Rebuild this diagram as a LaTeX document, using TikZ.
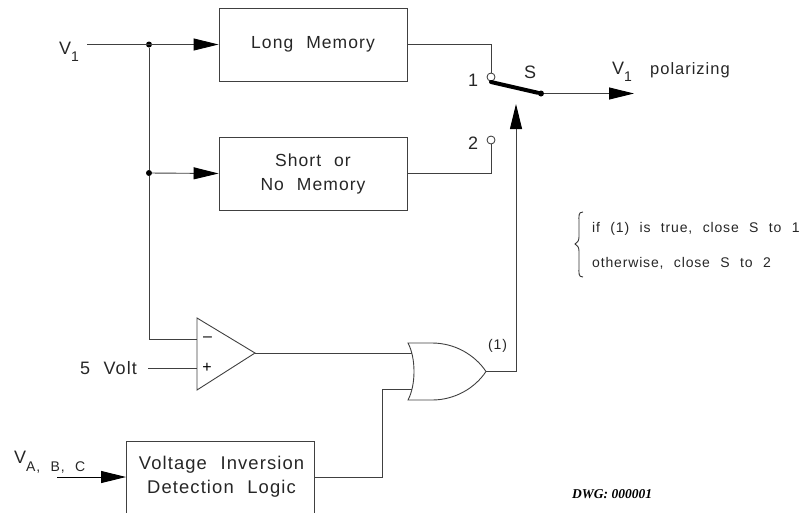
\documentclass[tikz,border=0pt]{standalone}
\usepackage{fontspec}
\setmainfont[LetterSpace=6,WordSpace=2.2]{Liberation Sans}
\newfontfamily\dwgfont{Liberation Serif}
\usetikzlibrary{arrows.meta,calc}
\tikzset{
  wire/.style={line width=0.9pt,draw=black!75},
  arr/.style={wire,-{Triangle[length=25pt,width=12pt,black]}},
  blockbox/.style={draw=black!75,line width=0.9pt,minimum width=188pt,align=center,text=black!85,font=\fontsize{17.5}{24}\selectfont,inner sep=0pt},
  lab/.style={inner sep=0pt,text=black!85,font=\fontsize{18}{20}\selectfont,anchor=base west},
  note/.style={inner sep=0pt,text=black!85,font=\fontsize{14}{16}\selectfont,anchor=base west},
  term/.style={circle,draw=black!80,line width=0.8pt,minimum size=8pt,inner sep=0pt,fill=white},
  junct/.style={circle,fill=black,minimum size=6pt,inner sep=0pt},
}
\begin{document}
\begin{tikzpicture}[x=1pt,y=-1pt]
\useasboundingbox (0,0) rectangle (808,512);
% blocks
\node[blockbox,minimum height=73pt] (long) at (313,44.5) {Long Memory};
\node[blockbox,minimum height=73pt] (short) at (313,173.5) {Short or\\No Memory};
\node[blockbox,minimum height=82pt] (vinv) at (220.5,482) {};
\node[inner sep=0pt,align=center,text=black!85,font=\fontsize{18.4}{24}\selectfont] (vinvt) at (221.5,476.5) {Voltage Inversion\\Detection Logic};
% named points
\node[term] (t1) at (491,77) {};
\node[term] (t2) at (491,140) {};
\coordinate (swa) at (491,82);
\node[junct] (swb) at (541,93.5) {};
\coordinate (outtip) at (634,93.5);
\coordinate (v1) at (87,44.5);
\node[junct] (j1) at (149,44.5) {};
\node[junct] (j2) at (149,173) {};
% comparator
\draw[wire,line join=miter] (197,318) -- (255,353) -- (197,390) -- cycle;
\coordinate (cmpo) at (255,353);
\coordinate (cmpm) at (197,339);
\coordinate (cmpp) at (197,368);
\coordinate (fivev) at (148,368);
% OR gate
\draw[wire] (408,343) .. controls (416,358) and (416,385) .. (408,400) -- (432,400)
  .. controls (455,400) and (475,388) .. (486,371.5)
  .. controls (475,355) and (455,343) .. (432,343) -- cycle;
\coordinate (ora) at (411.5,353);
\coordinate (orb) at (411.5,389);
\coordinate (oro) at (486,371.5);
\coordinate (swctl) at (516,104);
\coordinate (vabc) at (57,477);
% connectors
\draw[arr] (v1) -- (long.west);
\draw[wire] (j1) -- (j2);
\draw[wire] (j2) |- (cmpm);
\draw[arr] (j2) -- (short.west);
\draw[wire] (long.east) -| (t1.north);
\draw[wire] (short.east) -| (t2.south);
\draw[line width=4pt,line cap=round] (swa) -- (swb);
\draw[arr] (swb) -- (outtip);
\draw[wire] (fivev) -- (cmpp);
\draw[wire] (cmpo) -- (ora);
\draw[wire] (vinv.east |- 0,477) -| (382,389) -- (orb);
\draw[arr] (oro) -| (swctl);
\draw[arr,draw=black] (vabc) -- (vinv.west |- vabc);
% labels
\node[lab] (lv1) at (59,54) {V\raisebox{-7pt}{\fontsize{14}{14}\selectfont 1}};
\node[lab] (ln1) at (468,86) {1};
\node[lab] (ln2) at (468,149) {2};
\node[lab] (ls) at (524,78) {S};
\node[lab] (lvp) at (612,74) {V\raisebox{-7pt}{\fontsize{14}{14}\selectfont 1}};
\node[lab,font=\fontsize{16.5}{20}\selectfont] (lpol) at (650,74) {polarizing};
\node[lab] (l5) at (80,374) {5 Volt};
\node[lab] (lvabc) at (14,463) {V\raisebox{-8pt}{\fontsize{14}{14}\selectfont A, B, C}};
\node[note] (lone) at (488,349) {(1)};
\node[inner sep=0pt,font=\fontsize{16}{16}\selectfont] (lm) at (207.5,339) {--};
\node[inner sep=0pt,font=\fontsize{16}{16}\selectfont] (lp) at (207,368) {+};
\node[note] (n1) at (592,232) {if (1) is true, close S to 1};
\node[note] (n2) at (592,267) {otherwise, close S to 2};
\draw[line width=0.9pt,draw=black!80] (583,212) .. controls (578,212) and (579,216) .. (579,222)
  -- (579,237) .. controls (579,241) and (577,243) .. (575,244)
  .. controls (577,245) and (579,247) .. (579,251) -- (579,267)
  .. controls (579,273) and (578,277) .. (583,277);
\node[inner sep=0pt,anchor=base west,font=\dwgfont\fontsize{13.5}{13.5}\selectfont\itshape\bfseries] (dwg) at (572,498) {DWG:\ 000001};
\end{tikzpicture}
\end{document}
